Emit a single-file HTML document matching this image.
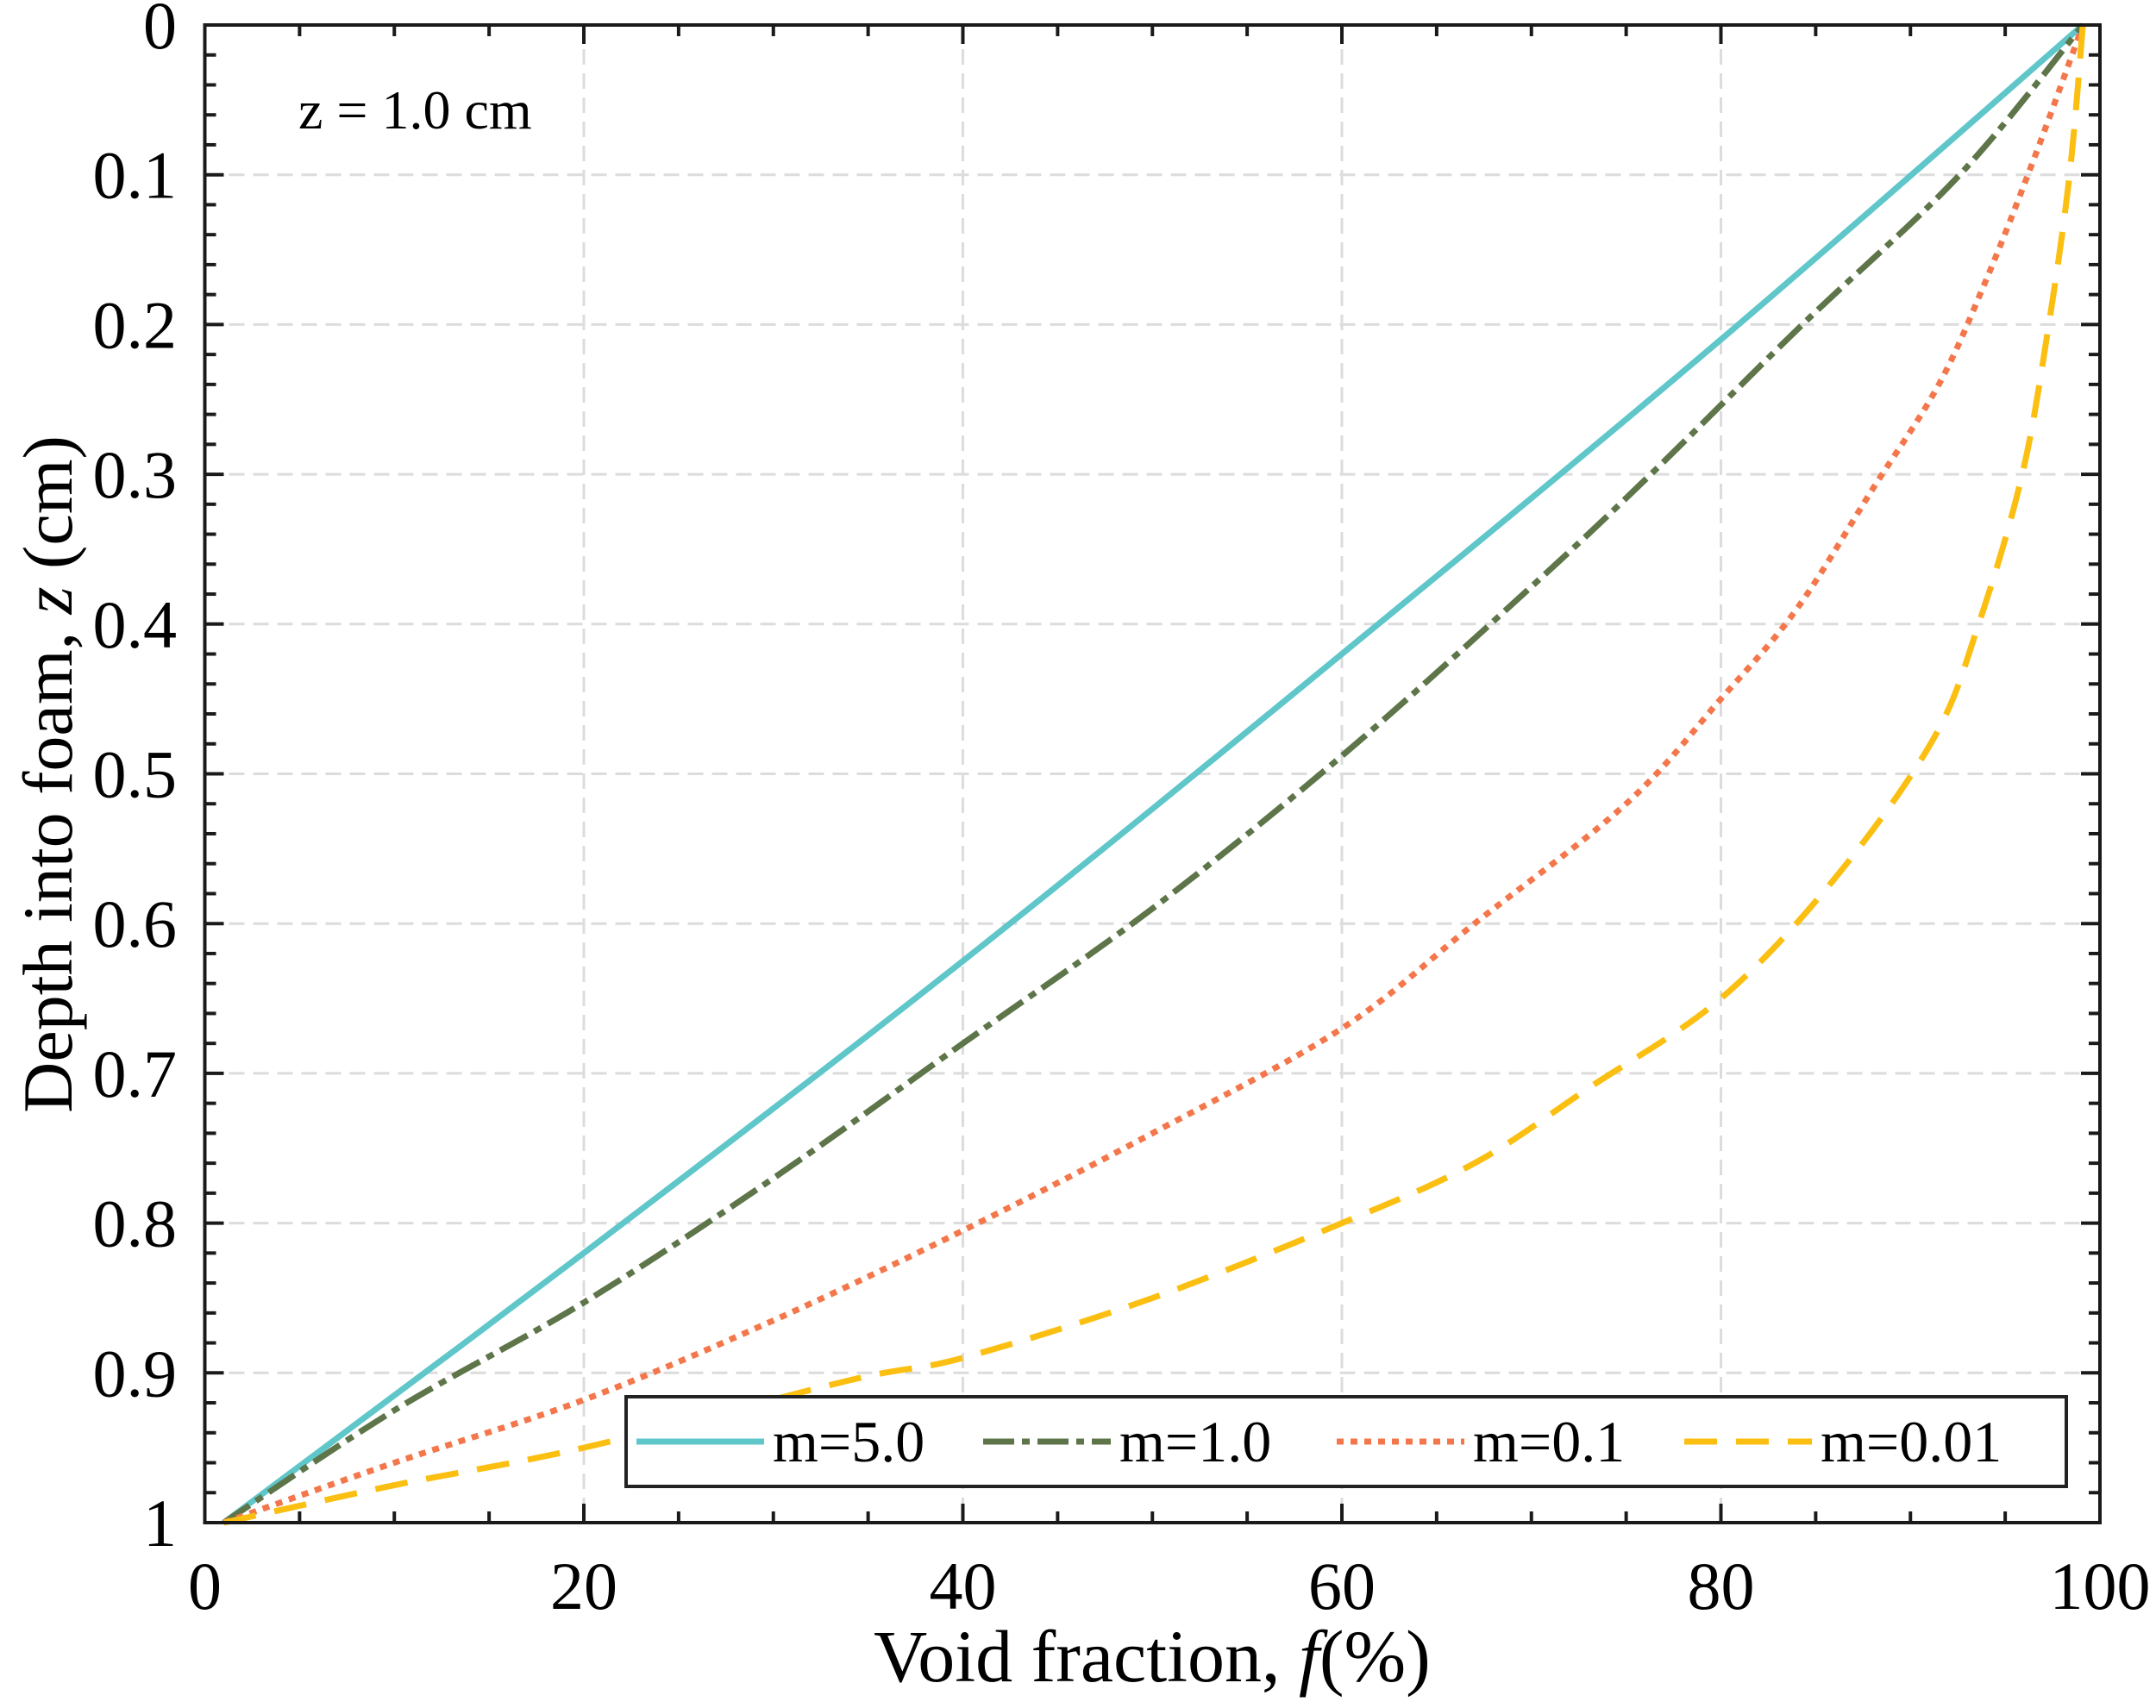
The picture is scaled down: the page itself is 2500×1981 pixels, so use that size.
<!DOCTYPE html>
<html><head><meta charset="utf-8">
<style>html,body{margin:0;padding:0;background:#fff;}svg{display:block;}</style>
</head><body>
<svg id="chart" width="2500" height="1981" viewBox="0 0 2500 1981" xmlns="http://www.w3.org/2000/svg" font-family="'Liberation Serif', serif"></svg>
<script>
const xTicks=[0,20,40,60,80,100];
const yTicks=[0,0.1,0.2,0.3,0.4,0.5,0.6,0.7,0.8,0.9,1];
const yTickLabels=["0","0.1","0.2","0.3","0.4","0.5","0.6","0.7","0.8","0.9","1"];
const seriesNames=["m=5.0","m=1.0","m=0.1","m=0.01"];
const fCyan=[1,20,40,60,80,99.1];
const zCyan=[1,0.82,0.625,0.42,0.21,0];
const fGreen=[1,10,20,30,40,50,60,70,76.3,84.3,92.6,99.1];
const zGreen=[1,0.925,0.853,0.77,0.68,0.59,0.488,0.375,0.3,0.2,0.1,0];
const fRed=[1,10,20,30,40,50,60,67,75,80,84,88,91.5,94,96.5,99.1];
const zRed=[1,0.96,0.918,0.865,0.805,0.74,0.67,0.6,0.52,0.45,0.39,0.31,0.24,0.17,0.09,0];
const fYellow=[1,10,20,34,40,50,60,67,73,80,86,91.2,93.6,95.9,97.3,98.4,99.1];
const zYellow=[1,0.975,0.95,0.905,0.89,0.85,0.8,0.76,0.71,0.65,0.57,0.477,0.4,0.3,0.2,0.1,0];

const L=237.5,R=2435,T=29,B=1766;
const sx=v=>L+(v/100)*(R-L);
const sy=v=>T+v*(B-T);
const svg=document.getElementById('chart');
const NS='http://www.w3.org/2000/svg';
function mk(tag,attrs,parent){const e=document.createElementNS(NS,tag);for(const k in attrs)e.setAttribute(k,attrs[k]);(parent||svg).appendChild(e);return e;}

const grid=mk('g',{});


xTicks.slice(1,-1).forEach(v=>{const l=mk('line',{x1:sx(v),x2:sx(v),y1:T,y2:B,stroke:'#dcdcdc','stroke-width':3,'stroke-dasharray':'18 10'},grid);

});
yTicks.slice(1,-1).forEach(v=>{const l=mk('line',{x1:L,x2:R,y1:sy(v),y2:sy(v),stroke:'#dcdcdc','stroke-width':3,'stroke-dasharray':'18 10'},grid);

});

const ticks=mk('g',{stroke:'#1a1a1a','stroke-width':4});


for(let v=0;v<=100;v+=5){const len=(v%20===0)?22:13;
mk('line',{x1:sx(v),x2:sx(v),y1:B,y2:B-len},ticks);mk('line',{x1:sx(v),x2:sx(v),y1:T,y2:T+len},ticks);}
for(let i=0;i<=50;i++){const v=i/50;const len=(i%5===0)?22:13;
mk('line',{x1:L,x2:L+len,y1:sy(v),y2:sy(v)},ticks);mk('line',{x1:R,x2:R-len,y1:sy(v),y2:sy(v)},ticks);}

function path(fs,zs){
 const p=fs.map((f,i)=>[sx(f),sy(zs[i])]);
 let d='M'+p[0][0].toFixed(1)+' '+p[0][1].toFixed(1);
 for(let i=0;i<p.length-1;i++){
  const p0=p[Math.max(0,i-1)],p1=p[i],p2=p[i+1],p3=p[Math.min(p.length-1,i+2)];
  const c1=[p1[0]+(p2[0]-p0[0])/6,p1[1]+(p2[1]-p0[1])/6];
  const c2=[p2[0]-(p3[0]-p1[0])/6,p2[1]-(p3[1]-p1[1])/6];
  d+=' C'+c1.map(v=>v.toFixed(1)).join(' ')+' '+c2.map(v=>v.toFixed(1)).join(' ')+' '+p2[0].toFixed(1)+' '+p2[1].toFixed(1);
 }
 return d;}
const styles=[
 {f:fCyan,z:zCyan,c:'#5fc6c9',d:'',n:'series-m5'},
 {f:fGreen,z:zGreen,c:'#5d7549',d:'36 9 9 9',n:'series-m1'},
 {f:fRed,z:zRed,c:'#f3774b',d:'8 8',n:'series-m0-1'},
 {f:fYellow,z:zYellow,c:'#fbbf11',d:'38 22',n:'series-m0-01'}];
styles.forEach(s=>{const p=mk('path',{d:path(s.f,s.z),fill:'none',stroke:s.c,'stroke-width':7,'stroke-dasharray':s.d,'stroke-linejoin':'round'});

});

const fr=mk('rect',{x:L,y:T,width:R-L,height:B-T,fill:'none',stroke:'#1a1a1a','stroke-width':4});



xTicks.forEach(v=>{const t=mk('text',{x:sx(v),y:1866,'font-size':78,'text-anchor':'middle',fill:'#000'});t.textContent=v;

});
yTicks.forEach((v,i)=>{const t=mk('text',{x:205,y:sy(v)+27,'font-size':78,'text-anchor':'end',fill:'#000'});t.textContent=yTickLabels[i];

});

const lg=mk('g',{});


mk('rect',{x:726,y:1620,width:1670,height:104,fill:'#fff',stroke:'#222','stroke-width':4},lg);
const lx=[738,1140,1550,1953];
styles.forEach((s,i)=>{const ln=mk('line',{x1:lx[i],x2:lx[i]+148,y1:1672,y2:1672,stroke:s.c,'stroke-width':7,'stroke-dasharray':s.d},lg);


const t=mk('text',{x:lx[i]+158,y:1695,'font-size':68,fill:'#000'},lg);t.textContent=seriesNames[i];

});
</script>
<div style="position:absolute;left:0;top:0;width:2500px;height:1981px;pointer-events:none;font-family:'Liberation Serif',serif;">
<div style="position:absolute;left:346px;top:96px;font-size:64px;line-height:1;">z = 1.0 cm</div>
<div style="position:absolute;left:0;width:2672px;text-align:center;top:1878px;font-size:86px;line-height:1;">Void fraction, <i>f</i>(%)</div>
<div style="position:absolute;left:56px;top:898px;width:1400px;margin-left:-700px;margin-top:-45px;text-align:center;font-size:82px;line-height:90px;transform:rotate(-90deg);">Depth into foam, <i>z</i> (cm)</div>
</div>
</body></html>
